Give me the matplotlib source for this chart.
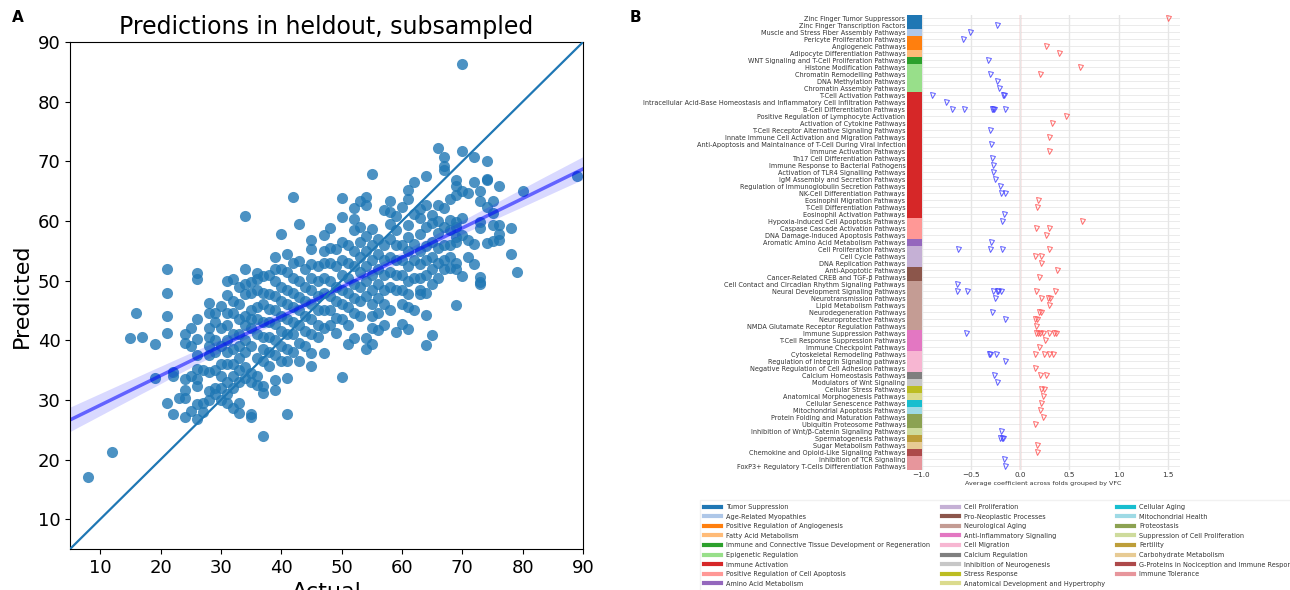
import numpy as np
import matplotlib.pyplot as plt
import seaborn as sns
from matplotlib.lines import Line2D

# ---- panel A data: predicted values grouped by actual value ----
pred_by_actual = {
    8: [17.0], 12: [21.2], 15: [40.3], 16: [44.6], 17: [40.6], 19: [39.3, 33.6],
    21: [51.9, 48.0, 44.0, 41.2, 29.4], 22: [34.6, 34.0, 27.6], 23: [30.3],
    24: [41.0, 39.5, 33.5, 31.7, 30.3, 27.2], 25: [42.0, 39.0, 34.0, 28.2],
    26: [51.2, 50.2, 43.6, 40.2, 37.5, 35.2, 33.5, 32.3, 29.3, 26.8],
    27: [35.0, 29.5, 28.0],
    28: [46.2, 44.5, 42.0, 40.5, 39.0, 37.5, 34.7, 31.5, 30.0],
    29: [44.5, 43.0, 40.0, 38.0, 35.0, 32.0, 31.0],
    30: [45.7, 42.0, 39.0, 36.0, 34.0, 32.0, 30.0],
    31: [50.0, 47.6, 44.5, 42.5, 40.0, 38.0, 36.0, 33.0, 31.0, 29.5],
    32: [50.2, 46.5, 44.5, 41.0, 38.5, 36.0, 34.0, 32.0, 28.6],
    33: [49.0, 46.0, 43.5, 41.0, 39.0, 37.0, 35.0, 33.0, 29.4, 27.8],
    34: [60.8, 52.0, 49.5, 47.8, 44.0, 42.5, 40.0, 38.0, 35.5, 33.6],
    35: [49.8, 48.0, 45.0, 43.5, 42.0, 39.0, 34.5, 33.0, 27.6, 27.2],
    36: [51.3, 50.3, 48.5, 45.5, 43.5, 41.0, 37.0, 34.0, 32.5],
    37: [50.8, 48.0, 46.0, 43.0, 40.5, 38.5, 36.5, 32.4, 31.2, 23.9],
    38: [51.0, 47.7, 45.3, 43.0, 40.5, 38.0, 35.7],
    39: [54.0, 52.0, 50.0, 47.5, 45.0, 42.7, 40.0, 37.5, 33.4, 31.6],
    40: [57.8, 52.0, 49.0, 46.5, 44.0, 41.5, 39.0, 36.5],
    41: [54.4, 51.5, 48.5, 46.0, 43.5, 41.0, 38.5, 36.5, 33.7, 27.7],
    42: [64.0, 53.0, 50.5, 48.0, 45.5, 43.0, 41.0, 38.0],
    43: [59.5, 53.3, 50.0, 47.3, 45.0, 42.5, 39.5, 36.5],
    44: [52.0, 49.0, 46.5, 44.0, 41.5, 39.0],
    45: [56.8, 55.3, 52.8, 50.5, 48.5, 46.0, 43.5, 41.0, 37.8, 35.6],
    46: [52.5, 50.0, 47.5, 45.0, 42.5, 40.5],
    47: [57.7, 55.0, 53.0, 50.5, 48.0, 45.0, 42.0, 37.8],
    48: [58.8, 55.5, 53.0, 50.0, 47.5, 45.0, 42.5],
    49: [55.3, 52.5, 49.0, 46.5, 43.8, 41.2],
    50: [63.8, 60.6, 56.5, 53.5, 51.0, 48.5, 46.0, 43.5, 33.8],
    51: [56.0, 53.0, 50.5, 48.0, 45.5, 42.5, 39.3],
    52: [62.2, 60.3, 58.5, 55.0, 52.5, 49.5, 47.0, 44.5, 40.3],
    53: [63.3, 59.0, 56.5, 54.0, 51.5, 49.0, 46.5, 44.0],
    54: [64.0, 62.6, 57.5, 55.0, 52.5, 50.0, 47.5, 40.4, 38.5],
    55: [67.9, 58.6, 56.0, 53.5, 51.0, 48.5, 46.0, 44.0, 42.0, 39.3],
    56: [57.0, 54.5, 52.0, 49.5, 47.0, 44.5, 41.7],
    57: [61.8, 56.0, 53.5, 51.0, 48.5, 46.0, 42.5],
    58: [63.4, 61.5, 59.5, 57.0, 54.0, 51.5, 49.0, 45.0],
    59: [60.8, 58.5, 56.0, 53.5, 51.0, 48.5, 41.4],
    60: [62.4, 56.0, 53.5, 51.0, 48.5, 46.0, 42.8],
    61: [65.2, 63.6, 59.3, 57.3, 55.0, 52.5, 50.0, 47.8, 45.5, 41.9],
    62: [66.6, 61.2, 56.2, 53.5, 50.5, 45.0],
    63: [62.0, 60.5, 57.8, 55.0, 52.8, 50.5, 48.5, 47.7],
    64: [67.6, 62.6, 59.0, 55.8, 53.5, 51.0, 48.0, 44.2, 39.2],
    65: [61.0, 59.6, 56.5, 54.0, 52.0, 49.5, 40.9],
    66: [72.3, 62.6, 60.0, 57.9, 55.5, 53.0, 50.5],
    67: [70.8, 69.2, 68.6, 62.2, 59.0, 56.0, 53.5, 52.0],
    68: [63.6, 60.2, 58.5, 56.0, 54.0, 52.1],
    69: [66.8, 65.8, 64.3, 59.9, 59.0, 57.3, 56.5, 53.0, 52.0, 45.9],
    70: [86.3, 71.8, 65.0, 60.5, 57.6, 50.7],
    71: [64.7, 56.8, 54.0],
    72: [70.8, 66.6, 56.2, 52.7],
    73: [65.1, 63.3, 59.9, 58.8, 50.6, 49.7, 49.5],
    74: [70.1, 67.1, 66.8, 62.3, 56.3],
    75: [63.4, 61.3, 59.3, 56.6],
    76: [65.9, 59.3, 57.8, 56.8],
    78: [58.9, 54.4], 79: [51.5], 80: [65.0], 89: [67.5],
}
actual = np.array([a for a, ys in pred_by_actual.items() for _ in ys], dtype=float)
predicted = np.array([y for ys in pred_by_actual.values() for y in ys])

# ---- panel B data ----
groups = [
    "Tumor Suppression", "Age-Related Myopathies", "Positive Regulation of Angiogenesis",
    "Fatty Acid Metabolism", "Immune and Connective Tissue Development or Regeneration",
    "Epigenetic Regulation", "Immune Activation", "Positive Regulation of Cell Apoptosis",
    "Amino Acid Metabolism", "Cell Proliferation", "Pro-Neoplastic Processes",
    "Neurological Aging", "Anti-Inflammatory Signaling", "Cell Migration",
    "Calcium Regulation", "Inhibition of Neurogenesis", "Stress Response",
    "Anatomical Development and Hypertrophy", "Cellular Aging", "Mitochondrial Health",
    "Proteostasis", "Suppression of Cell Proliferation", "Fertility",
    "Carbohydrate Metabolism", "G-Proteins in Nociception and Immune Response",
    "Immune Tolerance",
]
pathways = [
    "Zinc Finger Tumor Suppressors", "Zinc Finger Transcription Factors",
    "Muscle and Stress Fiber Assembly Pathways", "Pericyte Proliferation Pathways",
    "Angiogeneic Pathways", "Adipocyte Differentiation Pathways",
    "WNT Signaling and T-Cell Proliferation Pathways", "Histone Modification Pathways",
    "Chromatin Remodelling Pathways", "DNA Methylation Pathways",
    "Chromatin Assembly Pathways", "T-Cell Activation Pathways",
    "Intracellular Acid-Base Homeostasis and Inflammatory Cell Infiltration Pathways",
    "B-Cell Differentiation Pathways", "Positive Regulation of Lymphocyte Activation",
    "Activation of Cytokine Pathways", "T-Cell Receptor Alternative Signaling Pathways",
    "Innate Immune Cell Activation and Migration Pathways",
    "Anti-Apoptosis and Maintainance of T-Cell During Viral Infection",
    "Immune Activation Pathways", "Th17 Cell Differentiation Pathways",
    "Immune Response to Bacterial Pathogens", "Activation of TLR4 Signalling Pathways",
    "IgM Assembly and Secretion Pathways", "Regulation of Immunoglobulin Secretion Pathways",
    "NK-Cell Differentiation Pathways", "Eosinophil Migration Pathways",
    "T-Cell Differentiation Pathways", "Eosinophil Activation Pathways",
    "Hypoxia-Induced Cell Apoptosis Pathways", "Caspase Cascade Activation Pathways",
    "DNA Damage-Induced Apoptosis Pathways", "Aromatic Amino Acid Metabolism Pathways",
    "Cell Proliferation Pathways", "Cell Cycle Pathways", "DNA Replication Pathways",
    "Anti-Apoptotic Pathways", "Cancer-Related CREB and TGF-β Pathways",
    "Cell Contact and Circadian Rhythm Signaling Pathways",
    "Neural Development Signaling Pathways", "Neurotransmission Pathways",
    "Lipid Metabolism Pathways", "Neurodegeneration Pathways", "Neuroprotective Pathways",
    "NMDA Glutamate Receptor Regulation Pathways", "Immune Suppression Pathways",
    "T-Cell Response Suppression Pathways", "Immune Checkpoint Pathways",
    "Cytoskeletal Remodeling Pathways", "Regulation of Integrin Signaling pathways",
    "Negative Regulation of Cell Adhesion Pathways", "Calcium Homeostasis Pathways",
    "Modulators of Wnt Signaling", "Cellular Stress Pathways",
    "Anatomical Morphogenesis Pathways", "Cellular Senescence Pathways",
    "Mitochondrial Apoptosis Pathways", "Protein Folding and Maturation Pathways",
    "Ubiquitin Proteosome Pathways", "Inhibition of Wnt/β-Catenin Signaling Pathways",
    "Spermatogenesis Pathways", "Sugar Metabolism Pathways",
    "Chemokine and Opioid-Like Signaling Pathways", "Inhibition of TCR Signaling",
    "FoxP3+ Regulatory T-Cells Differentiation Pathways",
]
pathway_group = [0, 0, 1, 2, 2, 3, 4, 5, 5, 5, 5] + [6] * 18 + [7, 7, 7, 8, 9, 9, 9, 10, 10] \
    + [11] * 7 + [12] * 3 + [13] * 3 + [14, 15, 16, 17, 18, 19, 20, 20, 21, 22, 23, 24, 25, 25]
coefs = [
    [1.50], [-0.238], [-0.507], [-0.575], [0.265], [0.395], [-0.33], [0.605],
    [-0.31, 0.204], [-0.238], [-0.214], [-0.89, -0.17, -0.16], [-0.75],
    [-0.687, -0.565, -0.29, -0.28, -0.27, -0.156], [0.46], [0.32], [-0.31], [0.296],
    [-0.293], [0.296], [-0.282], [-0.279], [-0.272], [-0.258], [-0.204],
    [-0.194, -0.156], [0.18], [0.17], [-0.16], [-0.184, 0.626], [0.16, 0.29], [0.265],
    [-0.293], [-0.63, -0.31, -0.184, 0.293], [0.15, 0.21], [0.207], [0.374], [0.187],
    [-0.643], [-0.64, -0.537, -0.272, -0.238, -0.22, -0.19, 0.163, 0.357],
    [-0.252, 0.214, 0.282, 0.30], [0.289], [-0.282, 0.194, 0.21], [-0.156, 0.153, 0.173],
    [0.163], [-0.554, 0.163, 0.18, 0.197, 0.23, 0.29, 0.34, 0.367], [0.255], [0.19],
    [-0.32, -0.306, -0.241, 0.15, 0.238, 0.296, 0.333], [-0.156], [0.15],
    [-0.27, 0.20, 0.262], [-0.238], [0.214, 0.245], [0.228], [0.207], [0.197], [0.235],
    [0.15], [-0.19], [-0.20, -0.184, -0.173], [0.173], [0.17], [-0.167], [-0.156],
]
group_colors = list(plt.cm.tab20.colors) + [
    "#8ca252", "#cedb9c", "#bd9e39", "#e7cb94", "#ad494a", "#e7969c"]

fig = plt.figure(figsize=(12.9, 5.9), dpi=100)

# ---------------- panel A ----------------
ax = fig.add_axes([0.0543, 0.0695, 0.3977, 0.8593])
ax.set_xlim(5, 90)
ax.set_ylim(5, 90)
ax.scatter(actual, predicted, s=64, color="#1f77b4", alpha=0.8, linewidths=0, zorder=1)
ax.plot([5, 90], [5, 90], color="#1f77b4", lw=1.6, zorder=3)
sns.regplot(x=actual, y=predicted, scatter=False, truncate=False, color="blue", seed=0,
            line_kws={"alpha": 0.55, "lw": 2.5}, ax=ax)
ax.set_xlim(5, 90)
ax.set_ylim(5, 90)
ax.set_xticks(range(10, 91, 10))
ax.set_yticks(range(10, 91, 10))
ax.tick_params(labelsize=13)
ax.set_title("Predictions in heldout, subsampled", fontsize=17)
ax.set_xlabel("Actual", fontsize=16)
ax.set_ylabel("Predicted", fontsize=16)
fig.text(0.009, 0.962, "A", fontsize=11, fontweight="bold")
fig.text(0.488, 0.962, "B", fontsize=11, fontweight="bold")

# ---------------- panel B ----------------
bx = fig.add_axes([0.7029, 0.2042, 0.2118, 0.7704])
n = len(pathways)
bx.set_xlim(-1.15, 1.62)
bx.set_ylim(n - 0.5, -0.5)
for s in bx.spines.values():
    s.set_visible(False)
bx.set_xticks([-1.0, -0.5, 0.0, 0.5, 1.0, 1.5])
bx.set_yticks(range(n))
bx.set_yticklabels(pathways, fontsize=4.7, color="#333333")
bx.tick_params(axis="y", length=0, pad=1)
bx.tick_params(axis="x", length=0, pad=2, labelsize=5.2, colors="#333333")
bx.grid(axis="x", color="#e6e6e6", lw=1.0, zorder=0)
for i in range(n):
    bx.axhline(i, color="#e8e8e8", lw=0.6, zorder=0)
bx.axvline(0, color="#ff9a9a", lw=1.0, zorder=1)
bx.barh(range(n), 0.15, left=-1.15, height=1.0,
        color=[group_colors[g] for g in pathway_group], zorder=2)
for i, vals in enumerate(coefs):
    for v in vals:
        c = "#4040ff" if v < 0 else "#ff5050"
        bx.plot(v, i, marker="v", ms=3.6, mfc="none", mec=c, mew=0.7, alpha=0.85, zorder=3)
bx.set_xlabel("Average coefficient across folds grouped by VFC", fontsize=4.6,
              color="#333333", labelpad=2)

handles = [Line2D([0], [0], color=group_colors[i], lw=3) for i in range(len(groups))]
fig.legend(handles, groups, loc="upper left", bbox_to_anchor=(0.540, 0.158), ncol=3,
           fontsize=4.7, handlelength=2.7, handletextpad=0.7, labelspacing=0.55,
           columnspacing=1.8, borderpad=0.6, frameon=True, fancybox=False,
           edgecolor="#eeeeee", labelcolor="#333333")

fig.savefig("out.png", dpi=100)
